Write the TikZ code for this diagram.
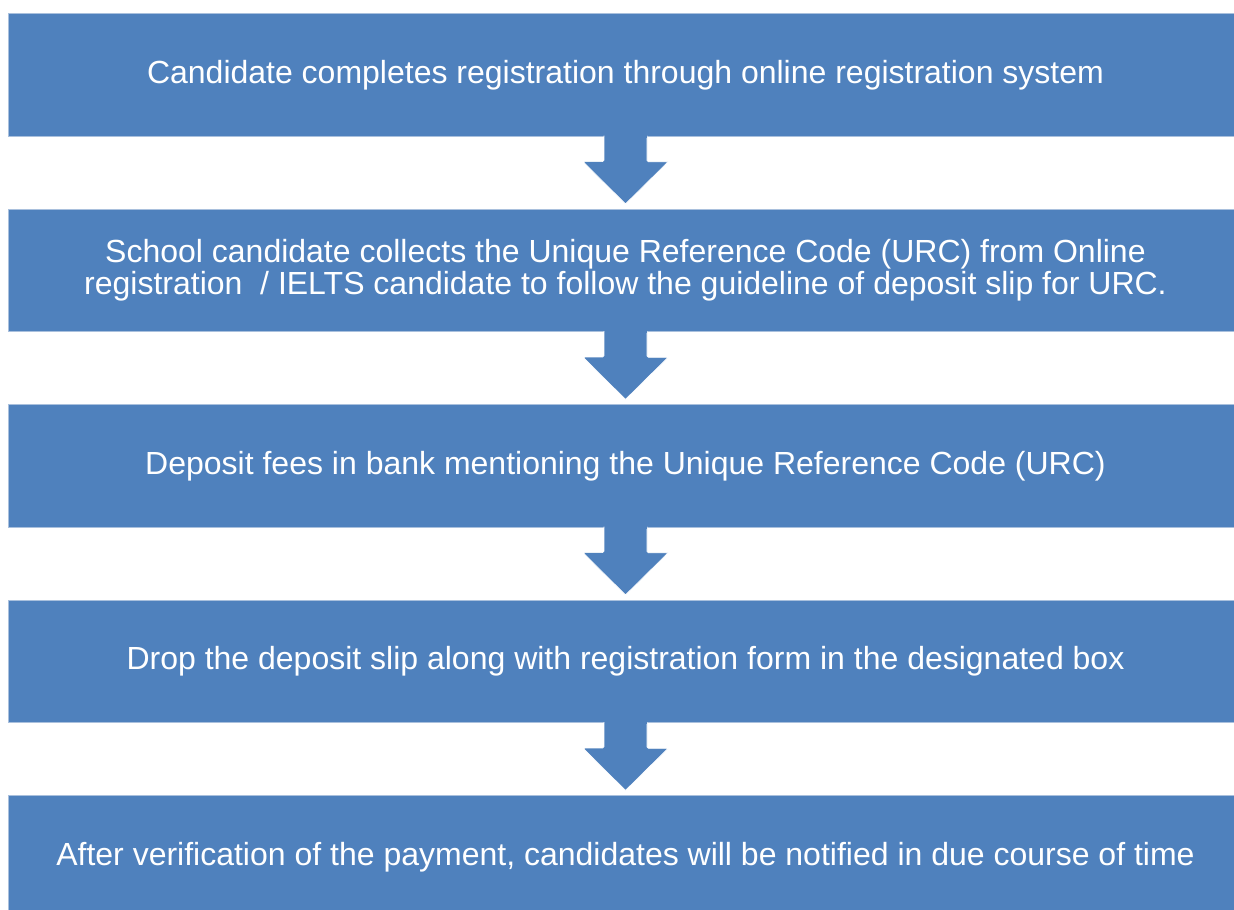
\documentclass[tikz,border=0pt]{standalone}
\usepackage{fontspec}
\setmainfont{Liberation Sans}
\definecolor{boxblue}{HTML}{4F81BD}
\definecolor{edgeblue}{HTML}{A9C0DD}
\begin{document}
\begin{tikzpicture}[x=1pt,y=-1pt,
  stepbox/.style={rectangle, fill=boxblue, draw=edgeblue, line width=0.8pt,
    minimum width=1235pt, minimum height=122.5pt, inner sep=0pt,
    text=white, font=\fontsize{32}{32}\selectfont, align=center},
  downarrow/.style={fill=boxblue, draw=white, line width=0.6pt, rounded corners=1.5pt}]
\useasboundingbox (0,0) rectangle (1234,910);
\clip (0,0) rectangle (1234,910);
\node[stepbox] (b1) at (625.5,75) {Candidate completes registration through online registration system};
\node[stepbox] (b2) at (625.5,270.5) {School candidate collects the Unique Reference Code (URC) from Online\\registration~~/ IELTS candidate to follow the guideline of deposit slip for URC.};
\node[stepbox] (b3) at (625.5,466) {Deposit fees in bank mentioning the Unique Reference Code (URC)};
\node[stepbox] (b4) at (625.5,661.5) {Drop the deposit slip along with registration form in the designated box};
\node[stepbox] (b5) at (625.5,857) {After verification of the payment, candidates will be notified in due course of time};
\foreach \a/\b in {b1/b2,b2/b3,b3/b4,b4/b5}{
  \coordinate (s) at (\a.south);
  \path[downarrow] ([xshift=-21.5pt,yshift=1pt]s) -- ++(0,26) -- ++(-21,0)
     [sharp corners] -- ([yshift=5pt]\b.north) -- ++(42.5,-42)
     [rounded corners=1.5pt] -- ++(-21,0) -- ([xshift=21.5pt,yshift=1pt]s);
  \fill[boxblue] ([xshift=-21pt,yshift=-1pt]s) rectangle ([xshift=21pt,yshift=2pt]s);
}
\end{tikzpicture}
\end{document}
